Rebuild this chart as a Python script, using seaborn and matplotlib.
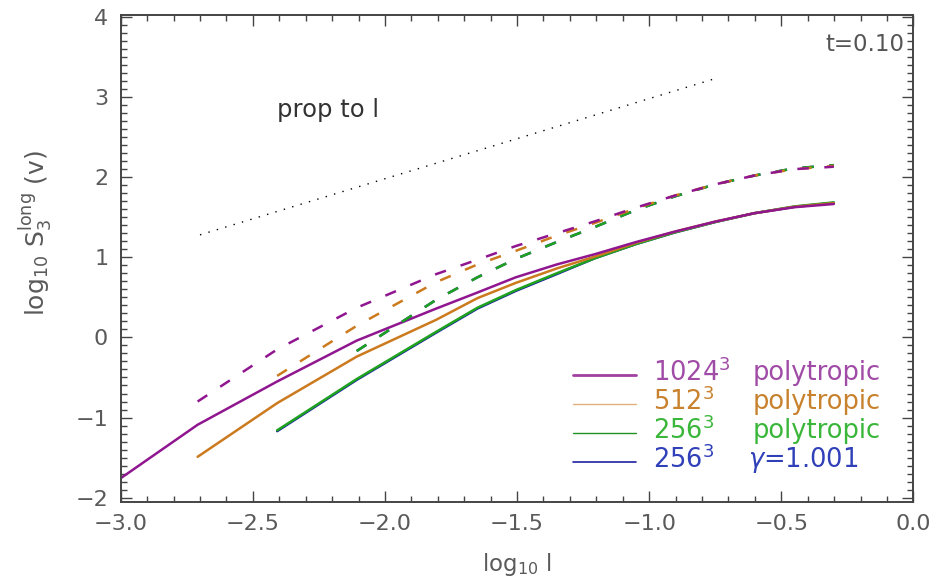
import numpy as np
import pandas as pd
import matplotlib
matplotlib.use("Agg")
import matplotlib.pyplot as plt
import seaborn as sns
from matplotlib.ticker import MultipleLocator, FuncFormatter

# ---------------- data ----------------
lx_1024 = [-3.010, -2.709, -2.408, -2.107, -1.806, -1.65, -1.505, -1.35, -1.204,
           -1.05, -0.903, -0.75, -0.602, -0.45, -0.301]
lx_512 = [-2.709, -2.408, -2.107, -1.806, -1.65, -1.505, -1.35, -1.204,
          -1.05, -0.903, -0.75, -0.602, -0.45, -0.301]
lx_256 = [-2.408, -2.107, -1.806, -1.65, -1.505, -1.35, -1.204,
          -1.05, -0.903, -0.75, -0.602, -0.45, -0.301]

# solid curves
s_1024 = [-1.78, -1.09, -0.55, -0.04, 0.36, 0.56, 0.75, 0.91, 1.04, 1.19, 1.32, 1.445, 1.55, 1.625, 1.665]
s_512 = [-1.49, -0.82, -0.24, 0.22, 0.49, 0.68, 0.86, 1.01, 1.18, 1.32, 1.445, 1.55, 1.63, 1.675]
s_256p = [-1.16, -0.52, 0.07, 0.37, 0.59, 0.80, 0.99, 1.165, 1.31, 1.44, 1.55, 1.635, 1.685]
s_256g = [-1.17, -0.53, 0.06, 0.36, 0.58, 0.79, 0.99, 1.165, 1.31, 1.44, 1.55, 1.63, 1.68]

# dashed curves
dx_1024 = lx_1024[1:]
dx_512 = lx_512[1:]
dx_256 = lx_256[1:]
d_1024 = [-0.80, -0.15, 0.37, 0.79, 0.97, 1.14, 1.30, 1.45, 1.62, 1.77, 1.91, 2.02, 2.10, 2.13]
d_512 = [-0.48, 0.145, 0.69, 0.91, 1.08, 1.27, 1.43, 1.61, 1.77, 1.91, 2.02, 2.10, 2.14]
d_256p = [-0.17, 0.47, 0.75, 0.98, 1.19, 1.38, 1.59, 1.76, 1.91, 2.02, 2.11, 2.15]
d_256g = [-0.17, 0.47, 0.75, 0.98, 1.19, 1.38, 1.59, 1.76, 1.91, 2.02, 2.11, 2.15]

# reference slope line (prop to l)
ref_x = [-2.70, -0.76]
ref_y = [1.28, 3.22]

series_labels = ["1024$^3$", "512$^3$", "256$^3$", "256$^3$"]
series_kinds = ["polytropic", "polytropic", "polytropic", "$\\mathit{\\gamma}$=1.001"]
line_colors = ["#901690", "#CC7A1E", "#1FA31F", "#1A1AA8"]
text_colors = ["#A04CA6", "#C8822E", "#3AB63A", "#3040B8"]

# ---------------- figure ----------------
sns.set_style("ticks")
plt.rcParams["font.family"] = ["DejaVu Sans"]
plt.rcParams["mathtext.default"] = "regular"
plt.rcParams["axes.unicode_minus"] = True

fig = plt.figure(figsize=(9.53, 5.86), dpi=100)
ax = fig.add_axes([0.1267, 0.1439, 0.8317, 0.8300])

lw = 1.8
dash = (0, (4.6, 6.2))
order = [3, 2, 1, 0]  # blue, green, orange, purple (purple on top)
solid_x = [lx_1024, lx_512, lx_256, lx_256]
solid_y = [s_1024, s_512, s_256p, s_256g]
dash_x = [dx_1024, dx_512, dx_256, dx_256]
dash_y = [d_1024, d_512, d_256p, d_256g]

for i in order:
    df = pd.DataFrame({"x": solid_x[i], "y": solid_y[i]})
    sns.lineplot(data=df, x="x", y="y", ax=ax, color=line_colors[i], lw=lw,
                 estimator=None)
for i in order:
    df = pd.DataFrame({"x": dash_x[i], "y": dash_y[i]})
    sns.lineplot(data=df, x="x", y="y", ax=ax, color=line_colors[i], lw=lw,
                 estimator=None)
    ax.get_lines()[-1].set_linestyle(dash)

dfr = pd.DataFrame({"x": ref_x, "y": ref_y})
sns.lineplot(data=dfr, x="x", y="y", ax=ax, color="black", lw=1.0)
ax.get_lines()[-1].set_linestyle((0, (1, 5.3)))

ax.set_xlim(-3.0, 0.0)
ax.set_ylim(-2.05, 4.02)

ax.xaxis.set_major_locator(MultipleLocator(0.5))
ax.xaxis.set_minor_locator(MultipleLocator(0.1))
ax.yaxis.set_major_locator(MultipleLocator(1))
ax.yaxis.set_minor_locator(MultipleLocator(0.1))
ax.xaxis.set_major_formatter(FuncFormatter(lambda v, p: ("%.1f" % v).replace("-", "\u2212")))
ax.yaxis.set_major_formatter(FuncFormatter(lambda v, p: ("%d" % round(v)).replace("-", "\u2212")))
ax.tick_params(which="both", direction="in", top=True, right=True,
               colors="#444444", labelcolor="#5a5a5a", labelsize=16)
ax.tick_params(which="major", length=8, width=1.0, pad=9)
ax.tick_params(which="minor", length=4.5, width=1.0)
for sp in ax.spines.values():
    sp.set_color("#444444")
    sp.set_linewidth(1.4)

ax.set_xlabel("log$_{10}$ l", fontsize=16.5, color="#5a5a5a", labelpad=12)
ax.set_ylabel("log$_{10}$ S$_3^{long}$ (v)", fontsize=18, color="#5a5a5a")
ax.yaxis.set_label_coords(-0.084, 0.552)

ax.text(-2.41, 2.84, "prop to l", fontsize=17.5, color="#333333", va="center", ha="left")
ax.text(-0.035, 3.65, "t=0.10", fontsize=16.5, color="#555555", va="center", ha="right")

# legend drawn manually
rows_y = [0.2605, 0.2009, 0.1413, 0.0816]
handle_lw = [2.0, 1.0, 1.0, 1.2]
handle_col = ["#A040A0", "#E2B07A", "#209020", "#2020A0"]
for r in range(4):
    ax.plot([0.5707, 0.650], [rows_y[r], rows_y[r]], transform=ax.transAxes,
            color=handle_col[r], lw=handle_lw[r])
    ax.text(0.6716, rows_y[r] + 0.004, series_labels[r], transform=ax.transAxes,
            fontsize=18.5, color=text_colors[r], va="center", ha="left")
    kx = 0.7978 if r < 3 else 0.7915
    ax.text(kx, rows_y[r] + 0.004, series_kinds[r], transform=ax.transAxes,
            fontsize=18.5, color=text_colors[r], va="center", ha="left")

fig.savefig("out.png", dpi=100)
